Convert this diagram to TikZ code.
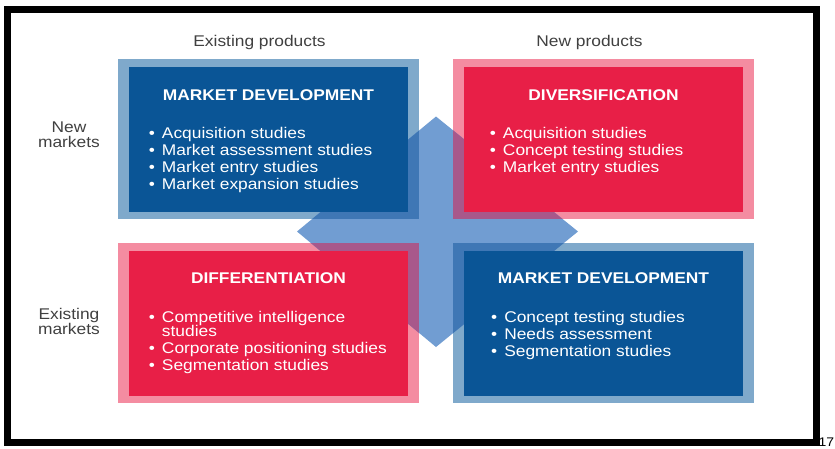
\documentclass[tikz,border=0pt]{standalone}
\usepackage{fontspec}
\setmainfont{Liberation Sans}[FakeStretch=1.12]
\usetikzlibrary{positioning,calc,backgrounds}

\definecolor{mdblue}{RGB}{10,85,150}
\definecolor{bandblue}{RGB}{127,169,203}
\definecolor{mdred}{RGB}{232,31,71}
\definecolor{bandpink}{RGB}{244,140,161}
\definecolor{crossblue}{RGB}{113,157,210}
\definecolor{crossonblue}{RGB}{63,119,181}
\definecolor{crossonpink}{RGB}{168,88,139}
\definecolor{labelgray}{RGB}{64,64,64}

\newcommand{\bul}{\textbullet\hspace{7pt}}

\tikzset{
  quad/.style={minimum width=279pt, minimum height=145pt, inner sep=0pt, outer sep=0pt},
  bluequad/.style={quad, fill=mdblue},
  redquad/.style={quad, fill=mdred},
  qtitle/.style={text=white, font=\fontsize{15.5}{17}\selectfont\bfseries, inner sep=0pt},
  qlist/.style={text=white, align=left, font=\fontsize{15.5}{17}\selectfont, inner sep=0pt},
  axislabel/.style={text=labelgray, align=center, font=\fontsize{15.5}{15}\selectfont, inner sep=0pt}
}

\begin{document}
\begin{tikzpicture}[x=1pt, y=-1pt]

\useasboundingbox (0,0) rectangle (835,448);

% quadrants

\node[bluequad] (mdev) at (268.5,139.5) {};
\node[redquad, right=56pt of mdev] (divr) {};
\node[redquad, below=39pt of mdev] (diff) {};
\node[bluequad, right=56pt of diff] (mdevb) {};

% titles
\node[qtitle, below=33.5pt of mdev.north, anchor=base] (mdevt) {MARKET DEVELOPMENT};
\node[qtitle, below=33.5pt of divr.north, anchor=base] (divrt) {DIVERSIFICATION};
\node[qtitle, below=32.5pt of diff.north, anchor=base] (difft) {DIFFERENTIATION};
\node[qtitle, below=32.5pt of mdevb.north, anchor=base] (mdevbt) {MARKET DEVELOPMENT};

% study lists
\node[qlist, below right=60pt and 19.7pt of mdev.north west] (mdevl)
  {\bul Acquisition studies\\ \bul Market assessment studies\\ \bul Market entry studies\\ \bul Market expansion studies};
\node[qlist, below right=60pt and 25.7pt of divr.north west] (divrl)
  {\bul Acquisition studies\\ \bul Concept testing studies\\ \bul Market entry studies};
\node[qlist, below right=60pt and 19.7pt of diff.north west] (diffl)
  {\bul Competitive intelligence\\[-2.7pt] \hphantom{\bul}studies\\ \bul Corporate positioning studies\\ \bul Segmentation studies};
\node[qlist, below right=60pt and 27pt of mdevb.north west] (mdevbl)
  {\bul Concept testing studies\\ \bul Needs assessment\\ \bul Segmentation studies};

% axis labels
\node[axislabel, above=20.3pt of mdev.north, anchor=base, xshift=-9pt] (exprod) {Existing products};
\node[axislabel, above=20.3pt of divr.north, anchor=base, xshift=-14pt] (newprod) {New products};
\node[axislabel, left=29pt of mdev.west, yshift=5pt] (newmkt) {New\\markets};
\node[axislabel, left=29pt of diff.west, yshift=2pt] (exmkt) {Existing\\markets};

% bands and cross behind the quadrants
\begin{scope}[on background layer]
  \fill[bandblue] ([shift={(-11pt,8pt)}]mdev.north west) rectangle ([shift={(11pt,-7pt)}]mdev.south east);
  \fill[bandpink] ([shift={(-11pt,8pt)}]divr.north west) rectangle ([shift={(11pt,-7pt)}]divr.south east);
  \fill[bandpink] ([shift={(-11pt,8pt)}]diff.north west) rectangle ([shift={(11pt,-7pt)}]diff.south east);
  \fill[bandblue] ([shift={(-11pt,8pt)}]mdevb.north west) rectangle ([shift={(11pt,-7pt)}]mdevb.south east);

  \coordinate (ctr) at ($(mdev.south east)!0.5!(mdevb.north west)$);
  \coordinate (kl) at ([xshift=-139pt]ctr);
  \coordinate (kr) at ([xshift=142pt]ctr);
  \coordinate (kt) at ([yshift=115pt]ctr);
  \coordinate (kb) at ([yshift=-115.5pt]ctr);
  \fill[crossblue] (kl) -- (kt) -- (kr) -- (kb) -- cycle;

  \begin{scope}
    \clip (kl) -- (kt) -- (kr) -- (kb) -- cycle;
    \fill[crossonblue] ([shift={(-11pt,8pt)}]mdev.north west) rectangle ([shift={(11pt,-7pt)}]mdev.south east);
    \fill[crossonpink] ([shift={(-11pt,8pt)}]divr.north west) rectangle ([shift={(11pt,-7pt)}]divr.south east);
    \fill[crossonpink] ([shift={(-11pt,8pt)}]diff.north west) rectangle ([shift={(11pt,-7pt)}]diff.south east);
    \fill[crossonblue] ([shift={(-11pt,8pt)}]mdevb.north west) rectangle ([shift={(11pt,-7pt)}]mdevb.south east);
  \end{scope}
\end{scope}

% frame and page number
\draw[line width=7.5pt] (7.5,9.5) rectangle (816.5,442.5);
\node[font=\fontsize{12.5}{14}\selectfont, inner sep=0pt, anchor=base west] (pagenum) at (818.5,446.5) {17};

\end{tikzpicture}
\end{document}
